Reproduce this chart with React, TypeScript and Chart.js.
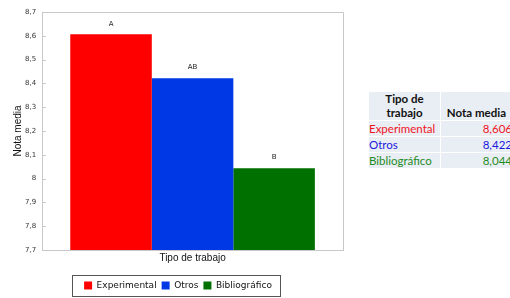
import React, { useEffect, useRef } from "react";
import { Chart, registerables } from "chart.js";

Chart.register(...registerables);

const categories = ["Tipo de trabajo"];
const seriesNames = ["Experimental", "Otros", "Bibliográfico"];
const seriesValues = [8.606, 8.422, 8.044];
const seriesLetters = ["A", "AB", "B"];
const seriesColors = ["#ff0000", "#0038e6", "#007000"];
const tableTextColors = ["#f0141e", "#1a1adc", "#1e8c1e"];
const tableValues = ["8,606", "8,422", "8,044"];
const yMin = 7.7;
const yMax = 8.7;
const yStep = 0.1;

const fmt = (v: number) => String(Math.round(v * 10) / 10).replace(".", ",");

const letterPlugin = {
  id: "letters",
  afterDatasetsDraw(chart: any) {
    const ctx = chart.ctx;
    ctx.save();
    ctx.font = "7px 'DejaVu Sans', sans-serif";
    ctx.fillStyle = "#222";
    ctx.textAlign = "center";
    ctx.textBaseline = "bottom";
    chart.data.datasets.forEach((ds: any, i: number) => {
      const meta = chart.getDatasetMeta(i);
      meta.data.forEach((el: any) => {
        ctx.fillText(seriesLetters[i], el.x, el.y - 7);
      });
    });
    ctx.restore();
  },
};

const frameLegendPlugin = {
  id: "frameLegend",
  afterDraw(chart: any) {
    const ctx = chart.ctx;
    const a = chart.chartArea;
    ctx.save();
    ctx.strokeStyle = "#c8c8c8";
    ctx.lineWidth = 1;
    ctx.beginPath();
    ctx.moveTo(Math.round(a.left) + 0.5, Math.round(a.bottom));
    ctx.lineTo(Math.round(a.left) + 0.5, Math.round(a.top) + 0.5);
    ctx.lineTo(Math.round(a.right) + 0.5, Math.round(a.top) + 0.5);
    ctx.lineTo(Math.round(a.right) + 0.5, Math.round(a.bottom) + 0.5);
    ctx.stroke();
    // inner half of y tick marks
    const ys = chart.scales.y;
    ctx.beginPath();
    ys.ticks.forEach((t: any) => {
      const y = Math.round(ys.getPixelForValue(t.value)) + 0.5;
      ctx.moveTo(Math.round(a.left), y);
      ctx.lineTo(Math.round(a.left) + 4, y);
    });
    ctx.stroke();
    const lg = chart.legend;
    if (lg && lg.legendHitBoxes && lg.legendHitBoxes.length) {
      const boxes = lg.legendHitBoxes;
      const l = Math.min(...boxes.map((b: any) => b.left)) - 12;
      const r = Math.max(...boxes.map((b: any) => b.left + b.width)) + 8;
      const t = Math.min(...boxes.map((b: any) => b.top)) - 6;
      const bt = Math.max(...boxes.map((b: any) => b.top + b.height)) + 6;
      ctx.strokeStyle = "#555";
      ctx.strokeRect(Math.round(l) + 0.5, Math.round(t) + 0.5, Math.round(r - l), Math.round(bt - t));
    }
    ctx.restore();
  },
};

function ChartView() {
  const ref = useRef<HTMLCanvasElement>(null);
  useEffect(() => {
    if (!ref.current) return;
    const chart = new Chart(ref.current, {
      type: "bar",
      data: {
        labels: categories,
        datasets: seriesNames.map((name, i) => ({
          label: name,
          data: [seriesValues[i]],
          backgroundColor: seriesColors[i],
          borderWidth: 0,
          categoryPercentage: 0.813,
          barPercentage: 1,
        })),
      },
      options: {
        animation: false,
        responsive: false,
        maintainAspectRatio: false,
        layout: { padding: { left: 13, right: 12, top: 12, bottom: 0 } },
        plugins: {
          tooltip: { enabled: false },
          legend: {
            position: "bottom",
            labels: {
              boxWidth: 8,
              boxHeight: 8,
              padding: 5,
              color: "#111",
              font: { family: "'DejaVu Sans', sans-serif", size: 9 },
            },
          },
        },
        scales: {
          x: {
            grid: { display: false, drawTicks: false },
            border: { color: "#c8c8c8" },
            ticks: { display: false },
            title: {
              display: true,
              text: categories[0],
              color: "#111",
              font: { family: "'Liberation Sans', Arial, sans-serif", size: 10 },
              padding: { top: 2, bottom: 12 },
            },
          },
          y: {
            min: yMin,
            max: yMax,
            grid: { display: false, drawTicks: true, tickLength: 4, tickColor: "#c8c8c8", drawOnChartArea: false } as any,
            border: { color: "#c8c8c8" },
            ticks: {
              stepSize: yStep,
              color: "#333",
              font: { family: "'DejaVu Sans', sans-serif", size: 7 },
              padding: 2,
              callback: (v: any) => fmt(Number(v)),
            },
            title: {
              display: true,
              text: "Nota media",
              color: "#111",
              font: { family: "'Liberation Sans', Arial, sans-serif", size: 10, lineHeight: 1 },
              padding: { top: 0, bottom: 0 },
            },
          },
        },
      },
      plugins: [letterPlugin, frameLegendPlugin],
    });
    return () => chart.destroy();
  }, []);
  return <canvas ref={ref} width={355} height={300} style={{ position: "absolute", left: 0, top: 0 }} />;
}

const cellBg = "#e9edf4";

export default function App() {
  const font = "Lato, 'Open Sans', sans-serif";
  return (
    <div style={{ position: "fixed", left: 0, top: 0, width: 510, height: 298, overflow: "hidden", background: "#fff" }}>
      <ChartView />
      <table
        style={{
          position: "absolute",
          left: 368,
          top: 91,
          width: 145,
          tableLayout: "fixed",
          borderCollapse: "separate",
          borderSpacing: 1,
          fontFamily: font,
          fontSize: 11.5,
          lineHeight: "13px",
        }}
      >
        <colgroup>
          <col style={{ width: 71 }} />
          <col style={{ width: 71 }} />
        </colgroup>
        <tbody>
          <tr>
            <th style={{ background: cellBg, fontWeight: 700, textAlign: "center", padding: "0", height: 28, lineHeight: "14px", color: "#111" }}>
              Tipo de
              <br />
              trabajo
            </th>
            <th style={{ background: cellBg, fontWeight: 700, textAlign: "right", padding: "0 6px 0 0", lineHeight: "14px", verticalAlign: "bottom", color: "#111", whiteSpace: "nowrap" }}>
              Nota media
            </th>
          </tr>
          {seriesNames.map((n, i) => (
            <tr key={n}>
              <td style={{ background: cellBg, color: tableTextColors[i], padding: "1px 0", height: 13, whiteSpace: "nowrap" }}>{n}</td>
              <td style={{ background: cellBg, color: tableTextColors[i], textAlign: "right", padding: "1px 0" }}>{tableValues[i]}</td>
            </tr>
          ))}
        </tbody>
      </table>
    </div>
  );
}
